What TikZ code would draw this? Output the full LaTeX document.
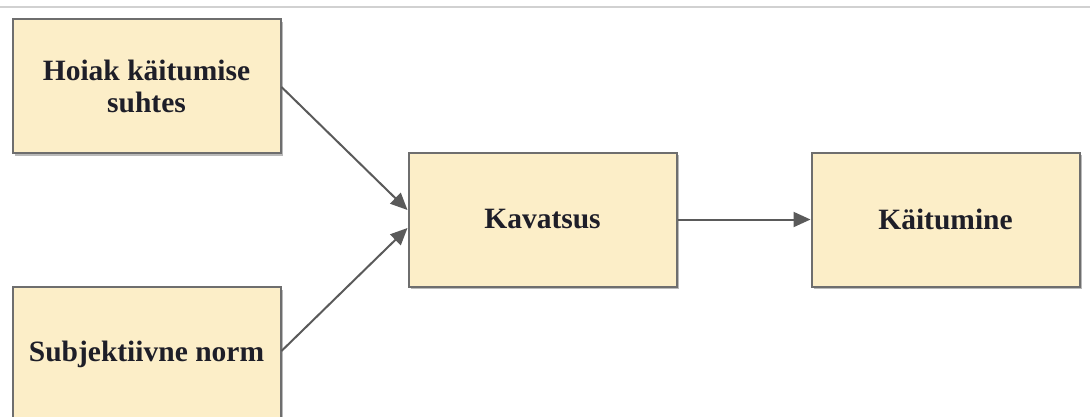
\documentclass[tikz,border=0pt]{standalone}
\usepackage{fontspec}
\setmainfont{Liberation Serif}
\usetikzlibrary{arrows.meta,shadows}
\definecolor{boxfill}{HTML}{FCEEC8}
\definecolor{boxline}{HTML}{6E6E6E}
\definecolor{arrowc}{HTML}{5A5A5A}
\definecolor{txt}{HTML}{1E1E28}
\tikzset{
  box/.style={draw=boxline, line width=2pt, fill=boxfill, minimum width=268pt, minimum height=134pt,
    align=center, text=txt, font=\fontsize{29.5}{32}\selectfont\bfseries, inner sep=0pt,
    drop shadow={shadow xshift=2.5pt, shadow yshift=-2.5pt, opacity=0.45, fill=black!60}},
  conn/.style={draw=arrowc, line width=2pt, -{Triangle[length=17pt,width=15pt]}}
}
\begin{document}
\begin{tikzpicture}[x=1pt,y=-1pt]
\useasboundingbox (0,0) rectangle (1090,416);
\fill[white] (0,0) rectangle (1090,416);
\draw[black!18, line width=2pt] (0,7) -- (1090,7);
\node[box] (att) at (146.5,86) {Hoiak käitumise\\suhtes};
\node[box] (norm) at (146.5,354) {Subjektiivne norm};
\node[box] (kav) at (542.5,219.5) {Kavatsus};
\node[box] (kait) at (945.5,219.5) {Käitumine};
\draw[conn] ([yshift=-1pt]att.east) -- ([yshift=9.5pt]kav.west);
\draw[conn] ([yshift=3pt]norm.east) -- ([yshift=-8.5pt]kav.west);
\draw[conn] (kav.east) -- (kait.west);
\end{tikzpicture}
\end{document}
